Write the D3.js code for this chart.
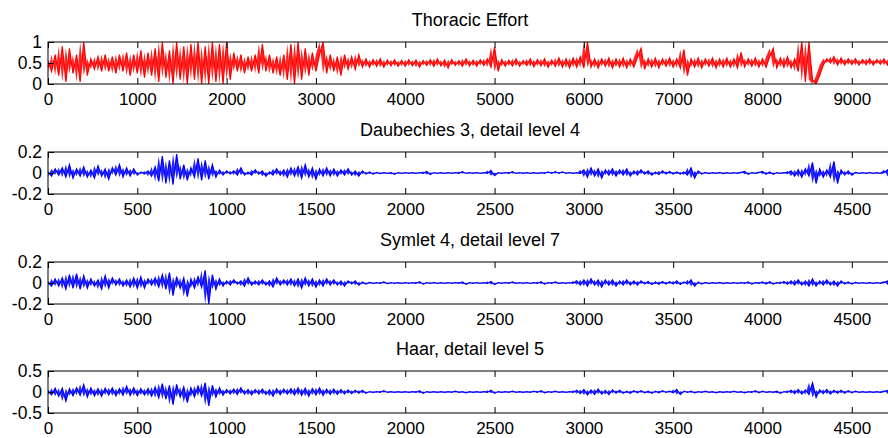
<!DOCTYPE html>
<html>
<head>
<meta charset="utf-8">
<script src="https://cdn.jsdelivr.net/npm/d3@7/dist/d3.min.js"></script>
<style>
html,body{margin:0;padding:0;background:#fff;overflow:hidden;}
svg{display:block;}
text{font-family:"Liberation Sans",Arial,sans-serif;fill:#000;}
</style>
</head>
<body>
<svg id="chart" width="888" height="438"></svg>
<script>
// ---------- data ----------
const titles = ["Thoracic Effort", "Daubechies 3, detail level 4", "Symlet 4, detail level 7", "Haar, detail level 5"];
const thoracicStep = 40;   // sample spacing of the listed values (x units)
const waveletStep = 20;
const thoracicXMax = 9450;
const waveletXMax = 4725;
const thoracicXTicks = [0,1000,2000,3000,4000,5000,6000,7000,8000,9000];
const waveletXTicks = [0,500,1000,1500,2000,2500,3000,3500,4000,4500];
const thoracicYTicks = [0,0.5,1];
const detailYTicks = [-0.2,0,0.2];
const haarYTicks = [-0.5,0,0.5];

const thoracic = [
.55,.3,.7,.2,.9,.05,.85,.25,.7,.05,
1.0,.2,.6,.35,.65,.3,.7,.3,.65,.25,
.7,.3,.75,.2,.7,.25,.8,.15,.75,.2,
.85,.05,1.0,.15,.8,0,1.0,.1,.9,0,
.95,.1,1.0,0,.9,0,1.0,.05,.95,0,
1.0,.1,.75,.3,.7,.25,.65,.3,.7,.25,
.95,.3,.7,.25,.65,.2,.7,.1,.95,0,
1.0,.1,.85,.2,.75,.3,.7,1.0,.25,.7,
.3,.65,.2,.7,.35,.65,.35,.7,.4,.6,
.4,.58,.42,.6,.4,.57,.43,.58,.42,.56,
.42,.58,.43,.57,.4,.56,.44,.58,.42,.6,
.43,.57,.38,.58,.44,.56,.42,.6,.43,.57,
.42,.58,.44,.6,.4,.88,.3,.58,.42,.57,
.43,.6,.42,.56,.44,.6,.41,.58,.43,.6,
.4,.57,.42,.62,.4,.6,.38,.62,.4,.65,
.38,1.0,.4,.6,.38,.6,.42,.62,.38,.6,
.4,.62,.38,.6,.4,.63,.85,.35,.6,.4,
.62,.38,.6,.42,.62,.4,.6,.38,.82,.2,
.6,.4,.62,.38,.6,.42,.62,.38,.6,.4,
.62,.4,.6,.38,.75,.4,.6,.42,.62,.4,
.6,.4,.65,.85,.38,.62,.4,.65,.38,.6,
.3,1.0,.05,1.0,.1,0,.2,.45,.6,.5,
.65,.45,.62,.45,.6,.46,.6,.45,.58,.46,
.6,.45,.58,.47,.6,.45,.58
];

const db3 = [
.01,-.03,.04,-.02,.05,-.04,.08,-.05,.04,-.03,
.06,-.04,.03,-.05,.07,-.03,.04,-.06,.05,-.02,
.08,-.04,.05,-.03,.04,-.02,.01,-.01,.02,-.03,
.06,-.08,.16,-.1,.12,-.11,.18,-.06,.08,-.07,
.05,-.04,.14,-.07,.12,-.06,.08,-.04,.03,-.02,
.02,-.01,.02,-.02,.05,-.02,.01,-.02,.03,-.01,
.02,-.03,.01,-.02,.04,-.02,.03,-.04,.05,-.03,
.06,-.05,.08,-.04,.05,-.06,.04,-.03,.05,-.03,
.04,-.03,.03,-.02,.04,-.02,.02,-.03,.02,-.01,
.01,-.01,.005,-.005,.004,-.004,.003,-.012,.004,-.004,
.003,-.003,.004,-.004,.003,-.003,.015,-.015,.004,-.003,
.003,-.004,.003,-.003,.004,-.003,.012,-.004,.003,-.003,
.004,-.003,.003,-.004,.025,-.025,.003,-.003,.004,-.003,
.012,-.004,.003,-.003,.004,-.003,.003,-.004,.003,-.003,
.01,-.003,.012,-.004,.01,-.003,.004,-.003,.004,-.005,
.03,-.04,.05,-.03,.04,-.05,.03,-.02,.04,-.03,
.03,-.02,.04,-.03,.02,-.02,.03,-.01,.02,-.02,
.01,-.015,.02,-.01,.015,-.01,.01,-.01,.01,-.02,
.05,-.05,.02,-.01,.005,-.005,.004,-.004,.005,-.005,
.004,-.004,.003,-.003,.004,.015,-.012,.004,-.004,.003,
.015,-.012,.01,-.012,.004,-.004,.003,-.003,.02,-.03,
.03,-.04,.04,-.03,.1,-.1,.04,-.04,.03,-.04,
.11,-.1,.03,-.02,.02,-.02,.005,-.004,.003,-.003,
.004,-.003,.003,-.004,.003,.03,-.03
];

const sym4 = [
.01,-.03,.04,-.03,.05,-.06,.08,-.05,.09,-.06,
.07,-.05,.04,-.03,.03,-.06,.07,-.05,.05,-.02,
.04,-.03,.03,-.04,.05,-.05,.06,-.05,.04,-.02,
.05,-.04,.08,-.06,.1,-.12,.06,-.05,.05,-.13,
.04,-.05,.06,-.04,.12,-.2,.08,-.06,.04,-.03,
.02,-.02,.03,-.01,.02,-.03,.05,-.02,.02,-.02,
.03,-.02,.02,-.04,.05,-.02,.03,-.02,.04,-.03,
.04,-.05,.05,-.03,.04,-.04,.03,-.03,.04,-.02,
.03,-.02,.02,-.03,.02,-.01,.02,-.02,.01,-.01,
.005,-.004,.003,-.004,.01,-.005,.003,-.003,.004,-.004,
.003,-.003,.004,-.004,.012,-.01,.003,-.003,.004,-.003,
.003,-.004,.003,-.003,.004,-.003,.01,-.012,.003,-.003,
.004,-.003,.003,-.004,.015,-.015,.003,-.003,.004,-.003,
.01,-.004,.003,-.003,.004,-.003,.003,-.004,.012,-.01,
.004,-.003,.01,-.004,.003,-.003,.004,-.003,.02,-.02,
.03,-.03,.04,-.02,.03,-.04,.03,-.02,.03,-.03,
.02,-.02,.03,-.02,.02,-.02,.02,-.01,.015,-.015,
.01,-.012,.015,-.01,.012,-.01,.02,-.015,.01,-.01,
.03,-.03,.01,-.01,.005,-.005,.004,-.004,.005,-.005,
.004,-.004,.003,-.003,.004,-.004,.01,-.01,.004,-.003,
.01,-.01,.012,-.01,.004,-.004,.015,-.012,.02,-.02,
.03,-.02,.02,-.03,.04,-.03,.02,-.02,.03,-.02,
.02,-.03,.02,-.01,.01,-.01,.005,-.004,.004,-.003,
.003,-.004,.003,-.003,.004,.02,-.02
];

const haar = [
.03,-.07,.09,-.1,.09,-.22,.08,-.09,.1,-.08,
.18,-.12,.1,-.09,.08,-.1,.09,-.07,.1,-.09,
.08,-.08,.14,-.08,.1,-.09,.08,-.07,.08,-.1,
.12,-.14,.2,-.17,.16,-.3,.18,-.12,.12,-.25,
.1,-.12,.14,-.1,.22,-.33,.16,-.12,.1,-.08,
.06,-.05,.07,-.06,.1,-.05,.06,-.07,.06,-.05,
.07,-.06,.05,-.1,.08,-.06,.07,-.05,.08,-.07,
.1,-.08,.09,-.1,.08,-.07,.1,-.08,.07,-.06,
.07,-.06,.06,-.05,.05,-.04,.04,-.03,.04,-.03,
.01,-.01,.01,-.01,.03,-.01,.01,-.01,.01,-.01,
.01,-.01,.01,-.01,.03,-.03,.01,-.01,.01,-.01,
.01,-.01,.01,-.01,.02,-.01,.01,-.02,.01,-.01,
.01,-.01,.01,-.01,.04,-.03,.01,-.01,.01,-.01,
.02,-.01,.01,-.01,.01,-.01,.02,-.01,.03,-.02,
.01,-.01,.02,-.01,.01,-.01,.01,-.01,.04,-.04,
.06,-.07,.05,-.06,.07,-.05,.04,-.06,.05,-.03,
.04,-.03,.02,-.03,.03,-.02,.03,-.02,.02,-.03,
.02,-.02,.03,-.01,.02,-.02,.06,-.06,.02,-.01,
.02,-.02,.01,-.01,.02,-.01,.01,-.02,.01,-.01,
.01,-.01,.02,-.01,.01,-.02,.01,-.01,.03,-.02,
.02,-.01,.01,-.01,.02,-.03,.01,-.01,.04,-.04,
.06,-.05,.05,-.06,.22,-.13,.05,-.04,.06,-.05,
.04,-.03,.04,-.03,.03,-.02,.02,-.01,.01,-.01,
.01,-.01,.01,-.01,.01,.04,-.04
];

// ---------- layout ----------
const left = 48, right = 892, plotH = 42;
const tops = [42, 152, 262, 371];
const panels = [
  {title: titles[0], values: thoracic, step: thoracicStep, xMax: thoracicXMax, xTicks: thoracicXTicks, yDomain: [0,1], yTicks: thoracicYTicks, color: "#ff0000"},
  {title: titles[1], values: db3, step: waveletStep, xMax: waveletXMax, xTicks: waveletXTicks, yDomain: [-0.2,0.2], yTicks: detailYTicks, color: "#0000ff"},
  {title: titles[2], values: sym4, step: waveletStep, xMax: waveletXMax, xTicks: waveletXTicks, yDomain: [-0.2,0.2], yTicks: detailYTicks, color: "#0000ff"},
  {title: titles[3], values: haar, step: waveletStep, xMax: waveletXMax, xTicks: waveletXTicks, yDomain: [-0.5,0.5], yTicks: haarYTicks, color: "#0000ff"}
];

const svg = d3.select("#chart");
const fmt = d => String(d);
const fontFam = "'Liberation Sans', Arial, sans-serif";

panels.forEach((p, k) => {
  const top = tops[k], bottom = top + plotH;
  const x = d3.scaleLinear().domain([0, p.xMax]).range([left, right]);
  const y = d3.scaleLinear().domain(p.yDomain).range([bottom, top]);
  const g = svg.append("g");
  const vals = p.values, n = vals.length;

  const clipId = "clip" + k;
  svg.append("clipPath").attr("id", clipId)
    .append("rect").attr("x", left).attr("y", top).attr("width", right - left).attr("height", plotH);

  const sig = g.append("g").attr("clip-path", `url(#${clipId})`);
  // dense band between each sample and the next one
  const band = d3.area()
    .x((d, i) => x(i * p.step))
    .y0(d => y(d))
    .y1((d, i) => y(vals[Math.min(i + 1, n - 1)]));
  sig.append("path").datum(vals)
    .attr("fill", p.color).attr("fill-opacity", 0.85).attr("stroke", "none")
    .attr("d", band);
  // signal line
  const line = d3.line().x((d, i) => x(i * p.step)).y(d => y(d));
  sig.append("path").datum(vals)
    .attr("fill", "none").attr("stroke", p.color).attr("stroke-width", 1.2)
    .attr("d", line);

  // bottom axis (labels + inward ticks)
  const xb = g.append("g").attr("transform", `translate(0,${bottom})`)
    .call(d3.axisBottom(x).tickValues(p.xTicks).tickFormat(fmt).tickSizeInner(-6).tickSizeOuter(0).tickPadding(9));
  xb.select(".domain").remove();
  xb.selectAll("line").attr("stroke", "#000");
  xb.selectAll("text").style("font-size", "17px").style("font-family", fontFam);

  // top axis (inward ticks only)
  const xt = g.append("g").attr("transform", `translate(0,${top})`)
    .call(d3.axisTop(x).tickValues(p.xTicks).tickFormat("").tickSizeInner(-6).tickSizeOuter(0));
  xt.select(".domain").remove();
  xt.selectAll("line").attr("stroke", "#000");

  // left axis
  const yl = g.append("g").attr("transform", `translate(${left},0)`)
    .call(d3.axisLeft(y).tickValues(p.yTicks).tickFormat(fmt).tickSizeInner(-6).tickSizeOuter(0).tickPadding(6));
  yl.select(".domain").remove();
  yl.selectAll("line").attr("stroke", "#000");
  yl.selectAll("text").style("font-size", "17.5px").style("font-family", fontFam);

  // frame
  g.append("rect").attr("x", left).attr("y", top).attr("width", right - left).attr("height", plotH)
    .attr("fill", "none").attr("stroke", "#000").attr("stroke-width", 1);

  // title
  g.append("text").attr("x", (left + right) / 2).attr("y", top - 16)
    .attr("text-anchor", "middle").style("font-size", "18px").text(p.title);
});
</script>
</body>
</html>
